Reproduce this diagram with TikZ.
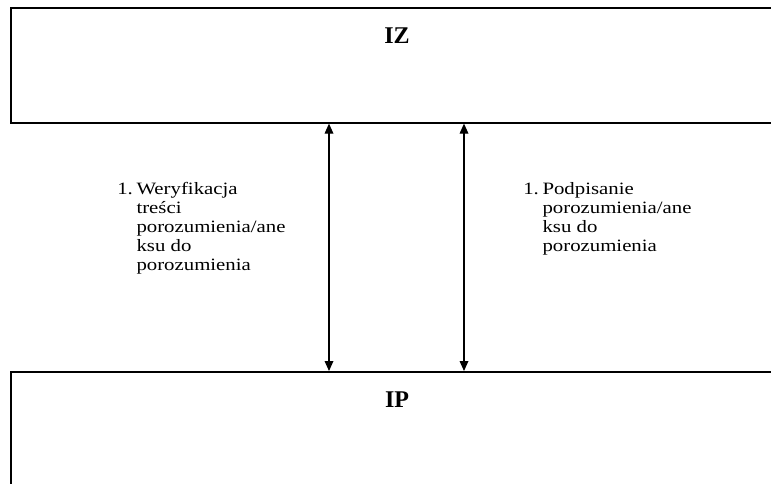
\documentclass[tikz,border=0pt]{standalone}
\usepackage{fontspec}
\setmainfont{Liberation Serif}
\usetikzlibrary{arrows.meta}
\newcommand{\itemno}{\makebox[12pt][l]{1.}}
\newcommand{\itemgap}{\hspace*{12pt}}
\tikzset{
  unitbox/.style={draw, line width=1.2pt, rectangle, inner sep=0pt, anchor=north west},
  unitname/.style={font=\fontsize{18}{20}\selectfont\bfseries, inner sep=0pt},
  link/.style={{Triangle[length=7.5pt,width=6.5pt]}-{Triangle[length=7.5pt,width=6.5pt]}, line width=0.9pt},
  note/.style={anchor=north west, align=left, inner sep=0pt, xscale=1.2, transform shape,
    font=\fontsize{13}{14.3}\selectfont}
}

\begin{document}
\begin{tikzpicture}[x=0.75pt,y=-0.75pt]
\useasboundingbox (0,0) rectangle (771,483);
\clip (0,0) rectangle (771,483);
% units
\node[unitbox, minimum width=592.5pt, minimum height=86.25pt] (iz) at (10,7) {};
\node[unitbox, minimum width=592.5pt, minimum height=112.5pt] (ip) at (10,371) {};
\node[unitname] (izname) at (397,36) {IZ};
\node[unitname] (ipname) at (397,400) {IP};
% links
\coordinate (left) at (329,0);
\coordinate (right) at (464,0);
\draw[link] (iz.south -| left) -- (ip.north -| left);
\draw[link] (iz.south -| right) -- (ip.north -| right);
\node[note] (verify) at (117,182) {\itemno Weryfikacja\\
  \itemgap treści\\
  \itemgap porozumienia/ane\\
  \itemgap ksu do\\
  \itemgap porozumienia};
\node[note] (sign) at (523,182) {\itemno Podpisanie\\
  \itemgap porozumienia/ane\\
  \itemgap ksu do\\
  \itemgap porozumienia};
\end{tikzpicture}
\end{document}
